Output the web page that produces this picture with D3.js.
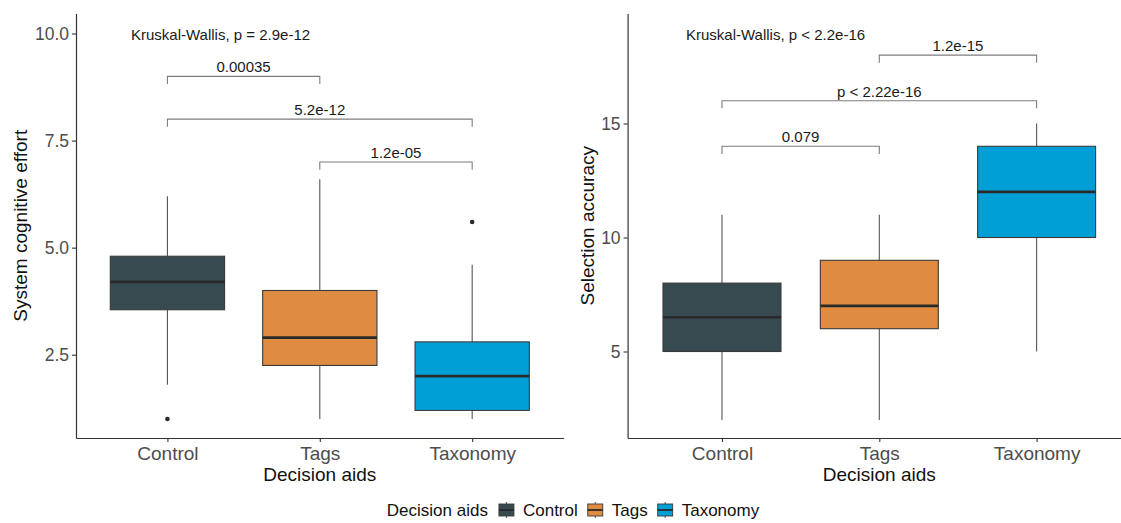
<!DOCTYPE html>
<html>
<head>
<meta charset="utf-8">
<script src="https://cdn.jsdelivr.net/npm/d3@7"></script>
<style>
  html, body { margin: 0; padding: 0; background: #fff; }
  svg { display: block; font-family: "Liberation Sans", Arial, sans-serif; }
</style>
</head>
<body>
<svg id="chart" width="1121" height="523"></svg>
<script>
// ---------- data ----------
const categories = ["Control", "Tags", "Taxonomy"];
const colors = ["#364a50", "#df8c42", "#00a0d6"];

// Left panel: System cognitive effort
const effortLow     = [1.8, 1.0, 1.0];
const effortQ1      = [3.55, 2.25, 1.2];
const effortMedian  = [4.2, 2.9, 2.0];
const effortQ3      = [4.8, 4.0, 2.8];
const effortHigh    = [6.2, 6.6, 4.6];
const effortOutliers = [[1.0], [], [5.6]];
const effortTicks   = [2.5, 5.0, 7.5, 10.0];
const effortPairs   = [["Control", "Tags"], ["Control", "Taxonomy"], ["Tags", "Taxonomy"]];
const effortPairY   = [9.0, 8.0, 7.0];
const effortPairLabels = ["0.00035", "5.2e-12", "1.2e-05"];
const effortKW = "Kruskal-Wallis, p = 2.9e-12";

// Right panel: Selection accuracy
const accLow     = [2, 2, 5];
const accQ1      = [5, 6, 10];
const accMedian  = [6.5, 7, 12];
const accQ3      = [8, 9, 14];
const accHigh    = [11, 11, 15];
const accOutliers = [[], [], []];
const accTicks   = [5, 10, 15];
const accPairs   = [["Control", "Tags"], ["Control", "Taxonomy"], ["Tags", "Taxonomy"]];
const accPairY   = [14, 16, 18];
const accPairLabels = ["0.079", "p < 2.22e-16", "1.2e-15"];
const accKW = "Kruskal-Wallis, p < 2.2e-16";

const xTitle = "Decision aids";
const legendTitle = "Decision aids";

// ---------- layout ----------
const svg = d3.select("#chart");
const plotTop = 13.5, plotBottom = 438;

const panels = [
  {
    xRange: [76, 563.6], yDomain: [0.556, 10.467],
    low: effortLow, q1: effortQ1, med: effortMedian, q3: effortQ3, high: effortHigh,
    outliers: effortOutliers, ticks: effortTicks, fmt: d3.format(".1f"),
    pairs: effortPairs, pairY: effortPairY, pairLabels: effortPairLabels,
    kw: effortKW, kwX: 131, yTitle: "System cognitive effort", yTitleX: 27
  },
  {
    xRange: [627.6, 1131], yDomain: [1.206, 19.825],
    low: accLow, q1: accQ1, med: accMedian, q3: accQ3, high: accHigh,
    outliers: accOutliers, ticks: accTicks, fmt: d3.format("d"),
    pairs: accPairs, pairY: accPairY, pairLabels: accPairLabels,
    kw: accKW, kwX: 686, yTitle: "Selection accuracy", yTitleX: 594
  }
];

panels.forEach(p => {
  const x = d3.scalePoint().domain(categories).range(p.xRange).padding(0.6);
  const y = d3.scaleLinear().domain(p.yDomain).range([plotBottom, plotTop]);
  const boxW = x.step() * 0.75;
  const g = svg.append("g");

  categories.forEach((c, i) => {
    const cx = x(c);
    g.append("line").attr("x1", cx).attr("x2", cx)
      .attr("y1", y(p.q3[i])).attr("y2", y(p.high[i]))
      .attr("stroke", "#555").attr("stroke-width", 1.1);
    g.append("line").attr("x1", cx).attr("x2", cx)
      .attr("y1", y(p.q1[i])).attr("y2", y(p.low[i]))
      .attr("stroke", "#555").attr("stroke-width", 1.1);
    g.append("rect")
      .attr("x", cx - boxW / 2).attr("width", boxW)
      .attr("y", y(p.q3[i])).attr("height", y(p.q1[i]) - y(p.q3[i]))
      .attr("fill", colors[i]).attr("stroke", "#3a3a3a").attr("stroke-width", 1.1);
    g.append("line")
      .attr("x1", cx - boxW / 2).attr("x2", cx + boxW / 2)
      .attr("y1", y(p.med[i])).attr("y2", y(p.med[i]))
      .attr("stroke", "#2a2a2a").attr("stroke-width", 2.6);
    p.outliers[i].forEach(v => {
      g.append("circle").attr("cx", cx).attr("cy", y(v)).attr("r", 2.3).attr("fill", "#2a2a2a");
    });
  });

  const tip = (p.yDomain[1] - p.yDomain[0]) * 0.018;
  p.pairs.forEach((pr, j) => {
    const x1 = x(pr[0]), x2 = x(pr[1]), yy = p.pairY[j];
    const path = d3.path();
    path.moveTo(x1, y(yy - tip));
    path.lineTo(x1, y(yy));
    path.lineTo(x2, y(yy));
    path.lineTo(x2, y(yy - tip));
    g.append("path").attr("d", path.toString()).attr("fill", "none")
      .attr("stroke", "#7d7d7d").attr("stroke-width", 1.1);
    g.append("text").attr("x", (x1 + x2) / 2).attr("y", y(yy) - 4)
      .attr("text-anchor", "middle").attr("font-size", "15px").attr("fill", "#1a1a1a")
      .text(p.pairLabels[j]);
  });

  g.append("text").attr("x", p.kwX).attr("y", 39.5)
    .attr("font-size", "15px").attr("fill", "#1a1a1a").text(p.kw);

  const yAxis = d3.axisLeft(y).tickValues(p.ticks).tickFormat(p.fmt).tickSize(4).tickSizeOuter(0).tickPadding(3);
  const ya = svg.append("g").attr("transform", `translate(${p.xRange[0]},0)`).call(yAxis);
  const xAxis = d3.axisBottom(x).tickSize(4).tickSizeOuter(0).tickPadding(5);
  const xa = svg.append("g").attr("transform", `translate(0,${plotBottom})`).call(xAxis);
  [ya, xa].forEach(a => {
    a.select(".domain").attr("stroke", "#333").attr("stroke-width", 1.2);
    a.selectAll(".tick line").attr("stroke", "#333").attr("stroke-width", 1.1);
  });
  ya.selectAll(".tick text").attr("font-size", "17.5px").attr("fill", "#4d4d4d")
    .attr("font-family", "Liberation Sans, Arial, sans-serif");
  xa.selectAll(".tick text").attr("font-size", "19px").attr("fill", "#4d4d4d")
    .attr("font-family", "Liberation Sans, Arial, sans-serif");

  svg.append("text").attr("x", (p.xRange[0] + p.xRange[1]) / 2).attr("y", 480.7)
    .attr("text-anchor", "middle").attr("font-size", "19px").attr("fill", "#111").text(xTitle);
  svg.append("text")
    .attr("transform", `translate(${p.yTitleX},${(plotTop + plotBottom) / 2}) rotate(-90)`)
    .attr("text-anchor", "middle").attr("font-size", "19px").attr("fill", "#111").text(p.yTitle);
});

// ---------- legend ----------
const lg = svg.append("g");
const fs = 17, keyW = 15, keyH = 16, legY = 510;
const tt = lg.append("text").attr("y", legY + 6).attr("font-size", fs + "px").attr("fill", "#111").text(legendTitle);
const items = categories.map((c, i) => {
  const it = lg.append("g");
  it.append("line").attr("x1", keyW / 2).attr("x2", keyW / 2).attr("y1", legY - keyH / 2).attr("y2", legY + keyH / 2)
    .attr("stroke", "#555").attr("stroke-width", 1);
  it.append("rect").attr("x", 0).attr("y", legY - 6).attr("width", keyW).attr("height", 12)
    .attr("fill", colors[i]).attr("stroke", "#3a3a3a").attr("stroke-width", 0.9);
  it.append("line").attr("x1", 0).attr("x2", keyW).attr("y1", legY).attr("y2", legY)
    .attr("stroke", "#2a2a2a").attr("stroke-width", 1.8);
  const t = it.append("text").attr("x", keyW + 9).attr("y", legY + 6).attr("font-size", fs + "px").attr("fill", "#111").text(c);
  return { g: it, w: keyW + 9 + t.node().getComputedTextLength() };
});
const titleW = tt.node().getComputedTextLength();
const gapTitle = 11, gapItem = 10;
const total = titleW + gapTitle + d3.sum(items, d => d.w) + gapItem * (items.length - 1);
let cur = 573 - total / 2;
tt.attr("x", cur);
cur += titleW + gapTitle;
items.forEach(d => { d.g.attr("transform", `translate(${cur},0)`); cur += d.w + gapItem; });
</script>
</body>
</html>
